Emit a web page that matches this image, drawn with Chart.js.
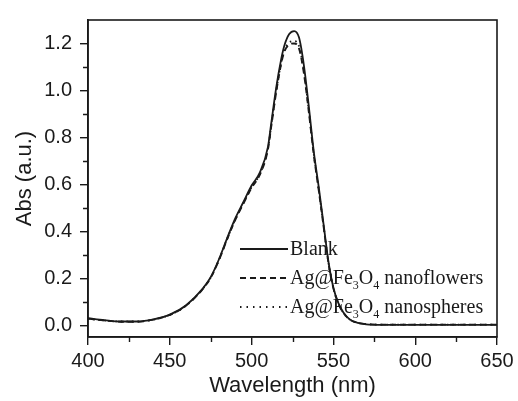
<!DOCTYPE html>
<html>
<head>
<meta charset="utf-8">
<script src="https://cdn.jsdelivr.net/npm/chart.js@4/dist/chart.umd.min.js"></script>
<style>
  html, body { margin: 0; padding: 0; background: #fff; }
  #wrap { width: 518px; height: 401px; }
</style>
</head>
<body>
<div id="wrap"><canvas id="chart"></canvas></div>
<script>
// =====================
// DATA
// =====================
const wavelengths = [400, 410, 420, 430, 440, 450, 460, 470, 475, 480,
                     485, 490, 495, 500, 505, 510, 512, 515, 518, 520,
                     523, 526, 529, 532, 535, 538, 541, 544, 547, 550,
                     553, 556, 560, 565, 570, 580, 600, 625, 650];

const blank = [0.030, 0.022, 0.016, 0.016, 0.025, 0.045, 0.085, 0.155, 0.205, 0.28,
               0.37, 0.455, 0.525, 0.595, 0.65, 0.76, 0.86, 1.01, 1.13, 1.19,
               1.24, 1.253, 1.225, 1.105, 0.93, 0.74, 0.59, 0.43, 0.27, 0.16,
               0.095, 0.055, 0.025, 0.01, 0.004, 0.002, 0.002, 0.002, 0.002];

const nanoflowers = [0.028, 0.020, 0.015, 0.015, 0.024, 0.044, 0.084, 0.153, 0.202, 0.276,
                     0.365, 0.448, 0.518, 0.585, 0.64, 0.748, 0.845, 0.99, 1.11, 1.165,
                     1.195, 1.20, 1.178, 1.07, 0.905, 0.725, 0.575, 0.42, 0.263, 0.157,
                     0.093, 0.054, 0.024, 0.01, 0.005, 0.003, 0.003, 0.003, 0.003];

const nanospheres = [0.027, 0.020, 0.016, 0.016, 0.024, 0.044, 0.084, 0.154, 0.203, 0.278,
                     0.367, 0.45, 0.52, 0.588, 0.643, 0.752, 0.85, 0.995, 1.115, 1.17,
                     1.205, 1.21, 1.188, 1.08, 0.912, 0.73, 0.578, 0.423, 0.265, 0.158,
                     0.093, 0.054, 0.024, 0.01, 0.005, 0.003, 0.003, 0.003, 0.003];

const xTicks = [400, 450, 500, 550, 600, 650];
const xMinorTicks = [425, 475, 525, 575, 625];
const yTicks = [0.0, 0.2, 0.4, 0.6, 0.8, 1.0, 1.2];
const yMinorTicks = [0.1, 0.3, 0.5, 0.7, 0.9, 1.1];

// legend rows: text pieces, subscripts flagged
const legendRows = [
    { dash: [], parts: [["Blank", false]] },
    { dash: [6, 4], parts: [["Ag@Fe", false], ["3", true], ["O", false], ["4", true], [" nanoflowers", false]] },
    { dash: [1.5, 5], parts: [["Ag@Fe", false], ["3", true], ["O", false], ["4", true], [" nanospheres", false]] }
];

const INK = '#1a1a1a';

function toPoints(ys) {
    return wavelengths.map((x, i) => ({ x: x, y: ys[i] }));
}

// =====================
// PLUGINS
// =====================
const framePlugin = {
    id: 'frame',
    afterDraw(chart) {
        const { ctx, chartArea: a, scales } = chart;
        ctx.save();
        ctx.strokeStyle = INK;
        ctx.lineWidth = 1.6;
        ctx.strokeRect(a.left, a.top, a.right - a.left, a.bottom - a.top);

        // minor ticks
        ctx.lineWidth = 1.4;
        ctx.beginPath();
        xMinorTicks.forEach(v => {
            const px = Math.round(scales.x.getPixelForValue(v)) + 0.5;
            ctx.moveTo(px, a.bottom);
            ctx.lineTo(px, a.bottom + 5);
        });
        yMinorTicks.forEach(v => {
            const py = Math.round(scales.y.getPixelForValue(v)) + 0.5;
            ctx.moveTo(a.left, py);
            ctx.lineTo(a.left - 5, py);
        });
        ctx.stroke();
        ctx.restore();
    }
};

const legendPlugin = {
    id: 'paperLegend',
    afterDatasetsDraw(chart) {
        const ctx = chart.ctx;
        const x0 = 240, x1 = 288, tx = 290;
        const rowsY = [249, 278, 307];
        ctx.save();
        legendRows.forEach((row, i) => {
            const y = rowsY[i];
            ctx.strokeStyle = INK;
            ctx.lineWidth = 1.8;
            ctx.setLineDash(row.dash);
            ctx.beginPath();
            ctx.moveTo(x0, y);
            ctx.lineTo(x1, y);
            ctx.stroke();
            ctx.setLineDash([]);

            let x = tx;
            ctx.fillStyle = INK;
            ctx.textBaseline = 'alphabetic';
            row.parts.forEach(([txt, sub]) => {
                ctx.font = sub ? '12px "Liberation Serif"' : '20px "Liberation Serif"';
                ctx.fillText(txt, x, sub ? y + 11 : y + 6);
                x += ctx.measureText(txt).width;
            });
        });
        ctx.restore();
    }
};

// =====================
// CHART
// =====================
const lineStyle = {
    borderColor: INK,
    borderWidth: 1.8,
    pointRadius: 0,
    fill: false,
    cubicInterpolationMode: 'monotone'
};

new Chart(document.getElementById('chart'), {
    type: 'line',
    data: {
        datasets: [
            { ...lineStyle, label: 'Blank', data: toPoints(blank) },
            { ...lineStyle, label: 'Ag@Fe3O4 nanoflowers', data: toPoints(nanoflowers), borderDash: [6, 4] },
            { ...lineStyle, label: 'Ag@Fe3O4 nanospheres', data: toPoints(nanospheres), borderDash: [1.5, 4] }
        ]
    },
    options: {
        responsive: true,
        maintainAspectRatio: false,
        animation: false,
        layout: { padding: { top: 16, right: 21, left: 0, bottom: 0 } },
        plugins: { legend: { display: false }, tooltip: { enabled: false } },
        scales: {
            x: {
                type: 'linear', min: 400, max: 650,
                afterBuildTicks: s => { s.ticks = xTicks.map(v => ({ value: v })); },
                afterFit: s => { s.height = 64; },
                border: { display: true, color: INK, width: 1.6 },
                grid: { drawOnChartArea: false, drawTicks: true, tickLength: 8, color: INK, lineWidth: 1.4 },
                ticks: { color: INK, padding: 4, maxRotation: 0, font: { family: 'Liberation Sans', size: 20 } },
                title: { display: true, text: 'Wavelength (nm)', color: INK, padding: { top: 0, bottom: 2 },
                         font: { family: 'Liberation Sans', size: 22 } }
            },
            y: {
                type: 'linear', min: -0.05, max: 1.3,
                afterBuildTicks: s => { s.ticks = yTicks.map(v => ({ value: v })); },
                afterFit: s => { s.width = 88; },
                border: { display: true, color: INK, width: 1.6 },
                grid: { drawOnChartArea: false, drawTicks: true, tickLength: 8, color: INK, lineWidth: 1.4 },
                ticks: { color: INK, padding: 8, callback: v => v.toFixed(1),
                         font: { family: 'Liberation Sans', size: 20 } },
                title: { display: true, text: 'Abs (a.u.)', color: INK, padding: { top: 12, bottom: 0 },
                         font: { family: 'Liberation Sans', size: 22 } }
            }
        }
    },
    plugins: [framePlugin, legendPlugin]
});
</script>
</body>
</html>
